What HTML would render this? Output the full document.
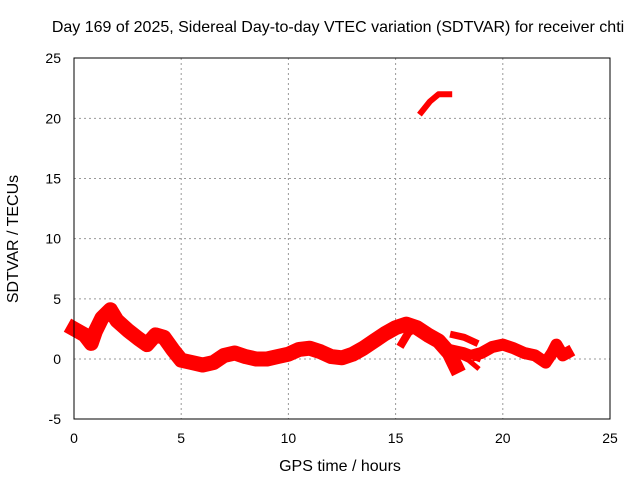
<!DOCTYPE html>
<html><head><meta charset="utf-8"><style>
body{margin:0;background:#fff}
svg{font-family:"Liberation Sans",sans-serif;font-size:14px}
</style></head><body>
<svg id="c" width="640" height="480">
<rect width="640" height="480" fill="#fff"/>
<text x="338" y="32" text-anchor="middle" font-size="16">Day 169 of 2025, Sidereal Day-to-day VTEC variation (SDTVAR) for receiver chti</text>
<g id="grid"></g>
<g id="series"></g>
<rect x="74" y="58" width="536" height="361" fill="none" stroke="#000"/>
<g id="ticks"></g>
<text x="340" y="471" text-anchor="middle" font-size="16">GPS time / hours</text>
<text transform="translate(18,239) rotate(-90)" text-anchor="middle" font-size="16">SDTVAR / TECUs</text>
</svg>
<script>
const xTicks=[0,5,10,15,20,25];
const yTicks=[-5,0,5,10,15,20,25];
const mainT=[0,0.3,0.5,0.8,1,1.3,1.7,2,2.5,3,3.4,3.8,4.2,4.6,5,5.5,6,6.5,7,7.5,8,8.5,9,9.5,10,10.5,11,11.5,12,12.5,13,13.5,14,14.5,15,15.5,16,16.5,17,17.5,17.8];
const mainV=[2.5,2.2,2,1.3,2.3,3.4,4.1,3.2,2.4,1.7,1.2,2.0,1.8,0.8,-0.1,-0.3,-0.5,-0.3,0.3,0.5,0.2,0,0,0.2,0.4,0.8,0.9,0.6,0.2,0.1,0.4,0.9,1.5,2.1,2.6,2.9,2.6,2.0,1.5,0.5,-0.6];
const branchT=[15.3,15.6,16];
const branchV=[1.3,2.2,2.7];
const up18T=[17.7,18.2,18.7];
const up18V=[2.0,1.8,1.4];
const lo18T=[17.7,18.2,18.8];
const lo18V=[0.8,0.6,0.2];
const lo18bT=[17.9,18.4,18.8];
const lo18bV=[0.3,-0.1,-0.7];
const lateT=[18.8,19,19.5,20,20.5,21,21.5,22,22.3,22.5,22.8,23];
const lateV=[0.4,0.5,1.0,1.2,0.9,0.5,0.3,-0.3,0.5,1.2,0.3,0.5];
const topT=[16.2,16.6,17,17.5];
const topV=[20.5,21.4,22.0,22.0];
const X=t=>74+t*(536/25);
const Y=v=>359-v*(361/30);
const ns='http://www.w3.org/2000/svg';
const g=document.getElementById('grid'),tk=document.getElementById('ticks'),s=document.getElementById('series');
function mk(tag,at,p){const e=document.createElementNS(ns,tag);for(const k in at)e.setAttribute(k,at[k]);p.appendChild(e);return e;}
xTicks.forEach(t=>{
  if(t>0&&t<25){const l=mk('line',{x1:X(t),x2:X(t),y1:58,y2:419,stroke:'#999','stroke-dasharray':'2,3'},g);
  
  }
  const tx=mk('text',{x:X(t),y:443,'text-anchor':'middle'},tk);tx.textContent=t;
  
  
});
yTicks.forEach(v=>{
  if(v>-5&&v<25){const l=mk('line',{x1:74,x2:610,y1:Y(v),y2:Y(v),stroke:'#999','stroke-dasharray':'2,3'},g);
  
  }
  const tx=mk('text',{x:61,y:Y(v)+5,'text-anchor':'end'},tk);tx.textContent=v;
  
  
});
function seg(T,V,w,name){
  const d=T.map((t,i)=>(i?'L':'M')+X(t).toFixed(1)+','+Y(V[i]).toFixed(1)).join('');
  const p=mk('path',{d:d,fill:'none',stroke:'#f00','stroke-width':w,'stroke-linejoin':'round','stroke-linecap':'square'},s);
  
  
}
seg(mainT,mainV,15,'main-trace');
seg(branchT,branchV,8,'branch-trace');
seg(up18T,up18V,7,'upper-trace-18h');
seg(lo18T,lo18V,9,'lower-trace-18h');
seg(lo18bT,lo18bV,5,'lower-trace-18h-b');
seg(lateT,lateV,12,'late-trace');
seg(topT,topV,6,'outlier-trace');
</script>
</body></html>
